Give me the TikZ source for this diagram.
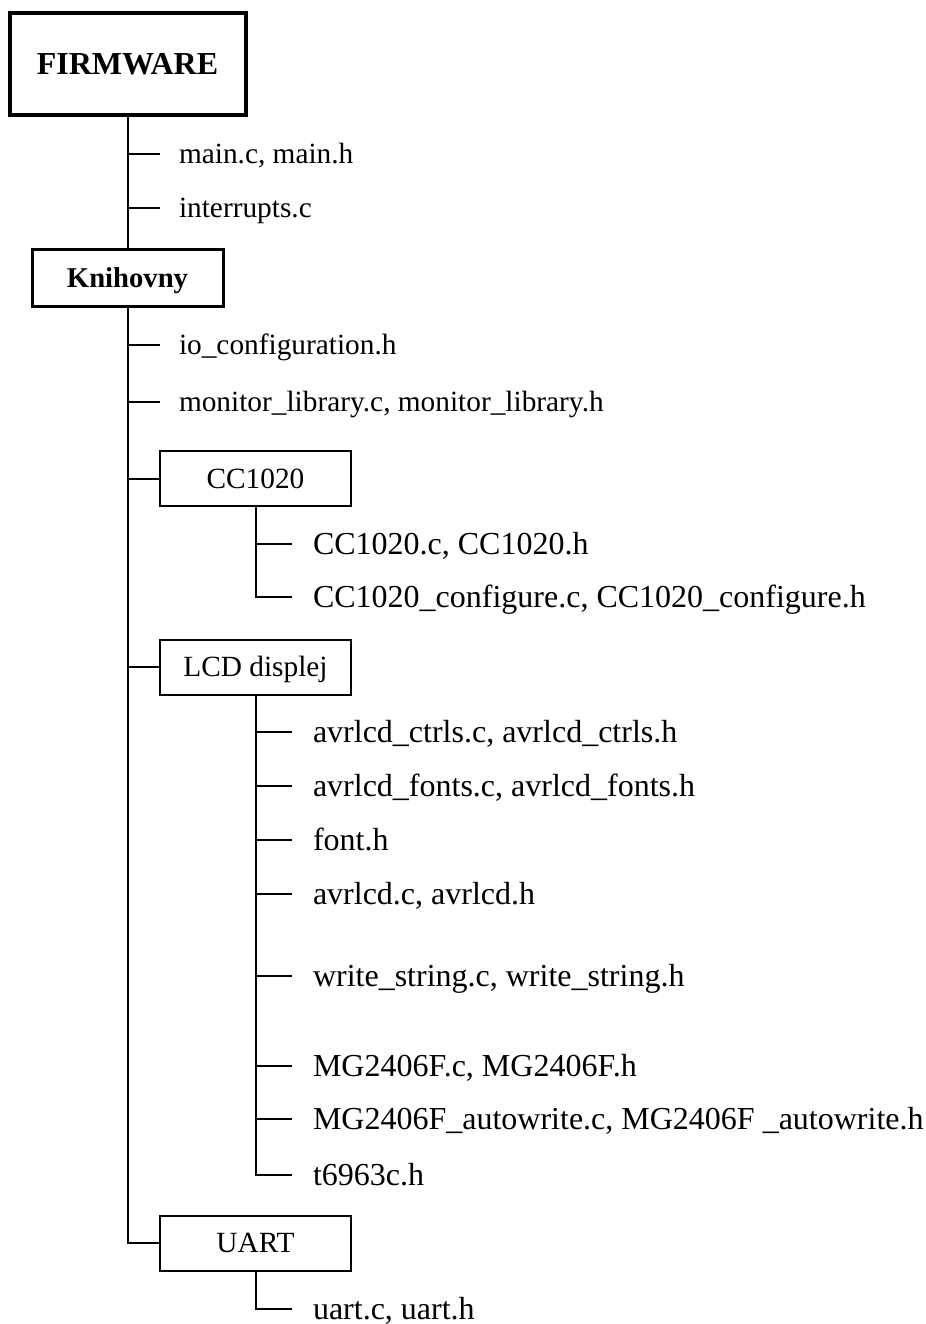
\documentclass[tikz,border=0pt]{standalone}
\usepackage{fontspec}
\setmainfont{Liberation Serif}
\begin{document}
\begin{tikzpicture}[x=0.75pt,y=-0.75pt,
  line width=1.5pt,
  rootbox/.style={draw, line width=3pt, minimum width=177pt, minimum height=76.5pt,
    inner sep=0pt, font=\fontsize{24pt}{28pt}\selectfont\bfseries,
    text height=16.2pt, text depth=0pt},
  libbox/.style={draw, line width=2.25pt, minimum width=143.25pt, minimum height=42.75pt,
    inner sep=0pt, font=\fontsize{21.5pt}{26pt}\selectfont\bfseries,
    text height=14.5pt, text depth=0pt},
  groupbox/.style={draw, line width=1.5pt, minimum width=143.25pt, minimum height=41.25pt,
    inner sep=0pt, font=\fontsize{22pt}{26pt}\selectfont,
    text height=14.6pt, text depth=0pt},
  leafsmall/.style={anchor=west, inner xsep=13.5pt, inner ysep=0pt,
    font=\fontsize{22pt}{26pt}\selectfont, text height=13.5pt, text depth=0pt},
  leaflarge/.style={anchor=west, inner xsep=15pt, inner ysep=0pt,
    font=\fontsize{24pt}{28pt}\selectfont, text height=15.75pt, text depth=0pt}]

\useasboundingbox[fill=white] (0,0) rectangle (925,1324);

% top level
\node[rootbox] (fw) at (127.5,64) {FIRMWARE};
\node[leafsmall] (mainc) at (160,154) {main.c, main.h};
\node[leafsmall] (intr) at (160,208) {interrupts.c};
\node[libbox] (lib) at (127.5,278) {Knihovny};

\draw (fw.south) -- (lib.north);
\draw (mainc.west) -- (mainc.west -| fw.south);
\draw (intr.west) -- (intr.west -| fw.south);

% libraries
\node[leafsmall] (io) at (160,345) {io\_configuration.h};
\node[leafsmall] (mon) at (160,402) {monitor\_library.c, monitor\_library.h};
\node[groupbox] (cc) at (255.5,478.5) {CC1020};
\node[groupbox] (lcd) at (255.5,667) {LCD displej};
\node[groupbox] (uart) at (255.5,1243) {UART};

\draw (lib.south) |- (uart.west);
\draw (io.west) -- (io.west -| lib.south);
\draw (mon.west) -- (mon.west -| lib.south);
\draw (cc.west) -- (cc.west -| lib.south);
\draw (lcd.west) -- (lcd.west -| lib.south);

% CC1020 files
\node[leaflarge] (cca) at (292,544) {CC1020.c, CC1020.h};
\node[leaflarge] (ccb) at (292,597) {CC1020\_configure.c, CC1020\_configure.h};
\draw (cc.south) |- (ccb.west);
\draw (cca.west) -- (cca.west -| cc.south);

% LCD files
\node[leaflarge] (la) at (292,732) {avrlcd\_ctrls.c, avrlcd\_ctrls.h};
\node[leaflarge] (lb) at (292,786) {avrlcd\_fonts.c, avrlcd\_fonts.h};
\node[leaflarge] (lc) at (292,840) {font.h};
\node[leaflarge] (ld) at (292,894) {avrlcd.c, avrlcd.h};
\node[leaflarge] (le) at (292,976) {write\_string.c, write\_string.h};
\node[leaflarge] (lf) at (292,1066) {MG2406F.c, MG2406F.h};
\node[leaflarge] (lg) at (292,1119) {MG2406F\_autowrite.c, MG2406F \_autowrite.h};
\node[leaflarge] (lh) at (292,1175) {t6963c.h};
\draw (lcd.south) |- (lh.west);
\foreach \n in {la,lb,lc,ld,le,lf,lg}
  \draw (\n.west) -- (\n.west -| lcd.south);

% UART files
\node[leaflarge] (ua) at (292,1309) {uart.c, uart.h};
\draw (uart.south) |- (ua.west);

\end{tikzpicture}
\end{document}
